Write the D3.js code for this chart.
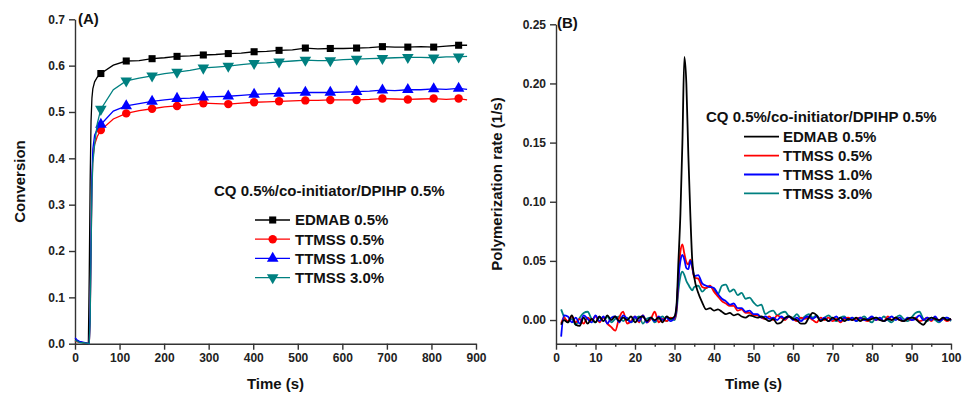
<!DOCTYPE html>
<html>
<head>
<meta charset="utf-8">
<script src="https://cdn.jsdelivr.net/npm/d3@7"></script>
<style>
  body { margin: 0; background: #fff; }
  svg { display: block; font-family: Arial, "Liberation Sans", sans-serif; }
  .axis path, .axis line { stroke: #333; stroke-width: 1.4; }
  .axis text { font-size: 12px; font-weight: bold; fill: #222; }
  .title { font-size: 15px; font-weight: bold; fill: #111; }
</style>
</head>
<body>
<svg id="chart" width="965" height="399"></svg>
<script>
// ---- panel A : conversion vs time ----
const timeA = [0, 5, 10, 15, 20, 25, 30, 32, 34, 36, 38, 40, 44, 50, 58, 86, 115, 144, 173, 201, 229, 258, 288, 316, 344,
  373, 402, 430, 458, 488, 517, 545, 573, 602, 632, 661, 690, 718, 747, 776, 805, 833, 861, 880];
const markerTimesA = [58, 115, 173, 229, 288, 344, 402, 458, 517, 573, 632, 690, 747, 805, 861];
const convEdmab = [0.008, 0.006, 0.004, 0.003, 0.002, 0.001, 0.000, 0.150, 0.350, 0.480, 0.530, 0.550, 0.565, 0.575, 0.583,
  0.601, 0.610, 0.611, 0.615, 0.617, 0.620, 0.621, 0.623, 0.624, 0.626, 0.627, 0.630, 0.631, 0.633, 0.634, 0.638,
  0.636, 0.637, 0.637, 0.638, 0.639, 0.641, 0.640, 0.640, 0.641, 0.640, 0.642, 0.644, 0.644];
const convT05 = [0.006, 0.004, 0.003, 0.003, 0.002, 0.001, 0.000, 0.000, 0.050, 0.200, 0.340, 0.400, 0.430, 0.447, 0.461,
  0.485, 0.497, 0.503, 0.507, 0.511, 0.513, 0.516, 0.519, 0.518, 0.517, 0.519, 0.521, 0.522, 0.523, 0.524, 0.525,
  0.525, 0.526, 0.526, 0.526, 0.527, 0.529, 0.528, 0.527, 0.528, 0.529, 0.527, 0.529, 0.526];
const convT10 = [0.013, 0.008, 0.005, 0.004, 0.003, 0.002, 0.000, 0.000, 0.060, 0.220, 0.360, 0.420, 0.450, 0.463, 0.473,
  0.502, 0.513, 0.518, 0.523, 0.526, 0.529, 0.530, 0.532, 0.533, 0.534, 0.536, 0.538, 0.539, 0.540, 0.541, 0.542,
  0.542, 0.542, 0.543, 0.544, 0.545, 0.547, 0.546, 0.548, 0.548, 0.550, 0.549, 0.551, 0.549];
const convT30 = [0.007, 0.005, 0.003, 0.002, 0.002, 0.001, 0.000, 0.000, 0.050, 0.200, 0.330, 0.390, 0.430, 0.475, 0.506,
  0.548, 0.567, 0.573, 0.578, 0.583, 0.586, 0.590, 0.595, 0.597, 0.599, 0.602, 0.605, 0.606, 0.608, 0.610, 0.612,
  0.611, 0.611, 0.613, 0.614, 0.615, 0.616, 0.617, 0.618, 0.618, 0.617, 0.619, 0.619, 0.620];

// ---- panel B : polymerization rate vs time ----
const timeB = [1.3, 2, 3, 4, 5, 6, 7, 8, 9, 10, 11, 12, 13, 14, 15, 16, 17, 18, 19, 20, 21, 22, 23, 24, 25, 26, 27, 28, 29, 30,
  30.5, 31, 31.5, 32, 32.5, 33, 33.5, 34, 34.5, 35, 36, 37, 38, 39, 40, 41, 42, 43, 44, 45, 46, 47, 48, 49, 50,
  51, 52, 53, 54, 55, 56, 57, 58, 59, 60, 61, 62, 63, 64, 65, 66, 67, 68, 69, 70, 71, 72, 73, 74, 75, 76, 77, 78, 79, 80,
  81, 82, 83, 84, 85, 86, 87, 88, 89, 90, 91, 92, 93, 94, 95, 96, 97, 98, 99, 100];
const rateEdmab = [-0.004, 0.000, -0.002, 0.004, -0.004, -0.005, 0.002, -0.003, 0.001, -0.002, 0.003, -0.001, 0.004, 0.000, 0.003,
  -0.001, 0.002, 0.000, 0.003, -0.002, 0.002, 0.003, -0.001, 0.002, 0.000, 0.002, -0.002, 0.003, 0.001, 0.003,
  0.012, 0.050, 0.090, 0.150, 0.2225, 0.200, 0.140, 0.090, 0.050, 0.036, 0.023, 0.015, 0.009, 0.010, 0.008,
  0.009, 0.007, 0.005, 0.006, 0.004, 0.005, 0.003, 0.002, 0.004, 0.003, 0.002, 0.003, 0.001, -0.001, 0.001,
  -0.003, -0.002, 0.002, 0.003, 0.001, 0.000, -0.003, -0.003, 0.002, 0.006, 0.004, -0.001, 0.001, -0.001, 0.002,
  0.000, 0.002, -0.001, 0.001, 0.000, 0.002, -0.001, 0.001, 0.000, 0.001, 0.002, 0.000, -0.001, 0.001, 0.000,
  0.002, 0.000, -0.001, 0.001, 0.002, 0.001, -0.002, -0.004, 0.000, 0.002, 0.001, 0.000, 0.002, 0.000, 0.001];
const rateT05 = [-0.003, 0.002, -0.001, 0.003, -0.002, 0.001, -0.003, 0.002, 0.000, 0.003, -0.002, 0.002, -0.003, -0.006, -0.009,
  0.002, 0.007, -0.003, -0.001, 0.003, -0.002, 0.004, -0.002, 0.001, 0.007, -0.002, 0.001, -0.001, 0.002, 0.001,
  0.008, 0.035, 0.058, 0.064, 0.056, 0.049, 0.047, 0.051, 0.044, 0.036, 0.035, 0.028, 0.027, 0.029, 0.024,
  0.020, 0.016, 0.014, 0.012, 0.012, 0.008, 0.009, 0.006, 0.006, 0.004, 0.004, 0.002, 0.001, 0.003, 0.000,
  0.004, 0.002, 0.000, 0.003, 0.001, -0.001, 0.002, 0.001, 0.002, 0.000, -0.002, 0.002, 0.000, 0.002, -0.001,
  0.001, -0.002, 0.001, 0.002, 0.000, 0.001, 0.002, 0.000, -0.001, 0.002, 0.000, 0.001, -0.001, 0.003, 0.000,
  0.002, 0.000, -0.001, 0.001, 0.000, 0.002, -0.001, 0.000, 0.002, -0.001, 0.002, 0.000, 0.001, -0.001, 0.001];
const rateT10 = [-0.014, 0.004, 0.003, -0.002, 0.002, -0.003, 0.004, 0.001, -0.002, 0.004, -0.001, 0.003, -0.003, 0.002, 0.003,
  -0.002, 0.004, 0.001, -0.002, 0.003, -0.001, 0.004, -0.002, 0.002, -0.001, 0.003, 0.000, 0.002, -0.001, 0.002,
  0.010, 0.035, 0.050, 0.055, 0.051, 0.044, 0.043, 0.050, 0.045, 0.037, 0.038, 0.031, 0.029, 0.028, 0.027,
  0.022, 0.018, 0.016, 0.013, 0.014, 0.010, 0.010, 0.007, 0.008, 0.005, 0.005, 0.002, 0.003, 0.001, 0.002,
  0.000, 0.003, 0.001, 0.003, 0.000, 0.002, -0.001, 0.002, 0.003, 0.001, 0.003, 0.000, 0.002, -0.001, 0.001,
  0.003, -0.001, 0.002, 0.000, 0.002, -0.001, 0.002, 0.000, 0.001, 0.003, 0.000, 0.002, -0.001, 0.001, 0.003,
  0.000, 0.002, -0.001, 0.002, 0.000, 0.001, 0.004, 0.000, 0.002, 0.000, 0.003, -0.001, 0.001, 0.002, 0.000];
const rateT30 = [0.009, 0.003, -0.002, 0.001, -0.004, 0.002, 0.006, 0.007, 0.001, -0.002, 0.002, -0.001, 0.003, -0.002, 0.001,
  0.003, -0.001, 0.002, -0.002, 0.001, 0.003, -0.003, 0.001, 0.002, -0.002, 0.001, 0.003, -0.001, 0.001, 0.000,
  0.006, 0.025, 0.037, 0.041, 0.038, 0.033, 0.030, 0.027, 0.025, 0.028, 0.029, 0.024, 0.027, 0.028, 0.026,
  0.022, 0.029, 0.030, 0.024, 0.026, 0.021, 0.023, 0.018, 0.019, 0.015, 0.012, 0.013, 0.005, 0.007, 0.008,
  0.004, 0.006, 0.007, 0.003, 0.002, 0.005, 0.001, 0.003, 0.005, 0.002, 0.004, 0.000, 0.002, 0.004, 0.001,
  -0.001, 0.002, 0.003, 0.000, 0.002, -0.001, 0.001, 0.003, 0.000, -0.002, 0.002, 0.000, 0.003, 0.000, -0.002,
  0.002, 0.004, 0.001, -0.001, 0.002, 0.006, 0.007, 0.001, -0.001, 0.002, 0.000, -0.002, 0.001, 0.002, -0.001];

const legendTitle = "CQ 0.5%/co-initiator/DPIHP 0.5%";
const seriesNames = ["EDMAB 0.5%", "TTMSS 0.5%", "TTMSS 1.0%", "TTMSS 3.0%"];
const seriesColors = ["#000000", "#ff0000", "#0000ff", "#008080"];
const xTicksA = [0, 100, 200, 300, 400, 500, 600, 700, 800, 900];
const yTicksA = [0, 0.1, 0.2, 0.3, 0.4, 0.5, 0.6, 0.7];
const xTicksB = [0, 10, 20, 30, 40, 50, 60, 70, 80, 90, 100];
const yTicksB = [0, 0.05, 0.10, 0.15, 0.20, 0.25];

const svg = d3.select("#chart");

const symbolsA = [
  d3.symbol().type(d3.symbolSquare).size(50),
  d3.symbol().type(d3.symbolCircle).size(56),
  d3.symbol().type(d3.symbolTriangle).size(58),
  d3.symbol().type(d3.symbolTriangle).size(58)
];
const symbolRot = [0, 0, 0, 180];

// ===== panel A =====
var ax = d3.scaleLinear().domain([0, 900]).range([75, 476]);
var ay = d3.scaleLinear().domain([0, 0.7]).range([343.7, 19.3]);

var gA = svg.append("g");
gA.append("g").attr("class", "axis")
  .attr("transform", "translate(0," + ay(0) + ")")
  .call(d3.axisBottom(ax).tickValues(xTicksA).tickSize(6).tickSizeOuter(0).tickPadding(4));
gA.append("g").attr("class", "axis")
  .attr("transform", "translate(" + ax(0) + ",0)")
  .call(d3.axisLeft(ay).tickValues(yTicksA).tickFormat(d3.format(".1f")).tickSize(6).tickSizeOuter(0).tickPadding(4));

var seriesA = [convEdmab, convT05, convT10, convT30];
var lineA = d3.line().x(d => ax(d[0])).y(d => ay(d[1]));
seriesA.forEach(function(vals, i) {
  var pts = timeA.map((t, k) => [t, vals[k]]);
  gA.append("path").datum(pts)
    .attr("fill", "none").attr("stroke", seriesColors[i]).attr("stroke-width", 1.3)
    .attr("d", lineA);
  gA.selectAll(".mk" + i)
    .data(pts.filter(p => markerTimesA.includes(p[0])))
    .enter().append("path")
    .attr("class", "mk" + i)
    .attr("d", symbolsA[i])
    .attr("fill", seriesColors[i])
    .attr("transform", d => "translate(" + ax(d[0]) + "," + ay(d[1]) + ") rotate(" + symbolRot[i] + ")");
});

gA.append("text").attr("class", "title").attr("x", 78).attr("y", 24).text("(A)");
gA.append("text").attr("class", "title").attr("x", 275.5).attr("y", 389)
  .attr("text-anchor", "middle").text("Time (s)");
gA.append("text").attr("class", "title")
  .attr("transform", "translate(25," + ((ay(0) + ay(0.7)) / 2) + ") rotate(-90)")
  .attr("text-anchor", "middle").text("Conversion");

// legend A
gA.append("text").attr("class", "title").attr("x", 214).attr("y", 196).text(legendTitle);
seriesNames.forEach(function(name, i) {
  var yy = 220 + i * 19.2;
  gA.append("line").attr("x1", 255).attr("x2", 290).attr("y1", yy).attr("y2", yy)
    .attr("stroke", seriesColors[i]).attr("stroke-width", 1.3);
  gA.append("path").attr("d", symbolsA[i]).attr("fill", seriesColors[i])
    .attr("transform", "translate(272.7," + yy + ") rotate(" + symbolRot[i] + ")");
  gA.append("text").attr("class", "title").attr("x", 295).attr("y", yy + 5.4).text(name);
});

// ===== panel B =====
var bx = d3.scaleLinear().domain([0, 100]).range([556, 951]);
var by = d3.scaleLinear().domain([-0.02, 0.25]).range([343.7, 24.3]);

var gB = svg.append("g");
gB.append("g").attr("class", "axis")
  .attr("transform", "translate(0," + by(-0.02) + ")")
  .call(d3.axisBottom(bx).tickValues(xTicksB).tickSize(6).tickSizeOuter(0).tickPadding(4));
gB.append("g").attr("class", "axis")
  .attr("transform", "translate(0," + by(-0.02) + ")")
  .call(d3.axisBottom(bx).tickValues(d3.range(5, 100, 10)).tickFormat("").tickSize(3).tickSizeOuter(0))
  .select(".domain").remove();
gB.append("g").attr("class", "axis")
  .attr("transform", "translate(" + bx(0) + ",0)")
  .call(d3.axisLeft(by).tickValues(yTicksB).tickFormat(d3.format(".2f")).tickSize(6).tickSizeOuter(0).tickPadding(4));

var seriesB = [rateEdmab, rateT05, rateT10, rateT30];
var lineB = d3.line().x(d => bx(d[0])).y(d => by(d[1])).curve(d3.curveMonotoneX);
// draw teal first so black stays on top like the reference
[3, 1, 2, 0].forEach(function(i) {
  var pts = timeB.map((t, k) => [t, seriesB[i][k]]);
  gB.append("path").datum(pts)
    .attr("fill", "none").attr("stroke", seriesColors[i]).attr("stroke-width", 1.8)
    .attr("stroke-linejoin", "round")
    .attr("d", lineB);
});

gB.append("text").attr("class", "title").attr("x", 557).attr("y", 28).text("(B)");
gB.append("text").attr("class", "title").attr("x", 753.5).attr("y", 389)
  .attr("text-anchor", "middle").text("Time (s)");
gB.append("text").attr("class", "title")
  .attr("transform", "translate(502," + ((by(-0.02) + by(0.25)) / 2) + ") rotate(-90)")
  .attr("text-anchor", "middle").text("Polymerization rate (1/s)");

// legend B
gB.append("text").attr("class", "title").attr("x", 706).attr("y", 122).text(legendTitle);
seriesNames.forEach(function(name, i) {
  var yy = 136.7 + i * 18.9;
  gB.append("line").attr("x1", 744).attr("x2", 779).attr("y1", yy).attr("y2", yy)
    .attr("stroke", seriesColors[i]).attr("stroke-width", 1.8);
  gB.append("text").attr("class", "title").attr("x", 783).attr("y", yy + 5.4).text(name);
});
</script>
</body>
</html>
